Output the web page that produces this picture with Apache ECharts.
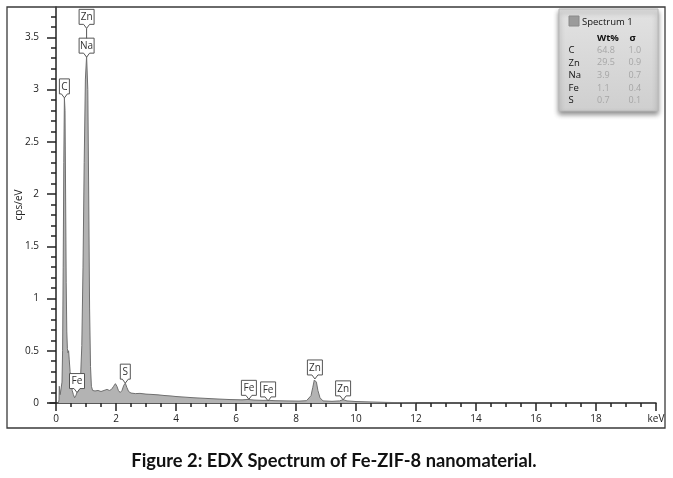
<!DOCTYPE html>
<html>
<head>
<meta charset="utf-8">
<script src="https://cdn.jsdelivr.net/npm/echarts@6/dist/echarts.min.js"></script>
<style>
  html, body { margin: 0; padding: 0; background: #fff; }
  #chart { width: 673px; height: 478px; }
</style>
</head>
<body>
<div id="chart"></div>
<script>
// spectrum (keV, cps/eV)
var energyKeV = [0.08, 0.10, 0.11, 0.12, 0.14, 0.17, 0.20, 0.22, 0.24, 0.26, 0.28, 0.30, 0.32, 0.34, 0.36, 0.38,
  0.40, 0.42, 0.44, 0.47, 0.50, 0.54, 0.58, 0.62, 0.66, 0.70, 0.74, 0.78, 0.82, 0.86, 0.90, 0.94, 0.98, 1.02,
  1.06, 1.09, 1.12, 1.15, 1.18, 1.22, 1.30, 1.40, 1.50, 1.60, 1.70, 1.78, 1.85, 1.92, 1.98, 2.03, 2.08, 2.14,
  2.20, 2.26, 2.31, 2.36, 2.42, 2.50, 2.65, 2.80, 3.00, 3.20, 3.40, 3.60, 3.80, 4.00, 4.30, 4.60, 5.00, 5.40,
  5.80, 6.20, 6.40, 6.60, 6.90, 7.07, 7.30, 7.70, 8.10, 8.35, 8.50, 8.56, 8.61, 8.64, 8.68, 8.73, 8.80, 8.90,
  9.20, 9.45, 9.57, 9.70, 10.0, 10.5, 11.0, 11.5, 12.0];
var countsCps = [0, 0.03, 0.16, 0.15, 0.08, 0.07, 0.20, 0.50, 1.30, 2.30, 2.92, 2.80, 2.00, 1.15, 0.68, 0.52,
  0.48, 0.50, 0.42, 0.30, 0.20, 0.12, 0.08, 0.05, 0.07, 0.10, 0.09, 0.13, 0.25, 0.55, 1.30, 2.30, 3.10, 3.32,
  3.00, 2.00, 0.90, 0.35, 0.16, 0.12, 0.115, 0.12, 0.11, 0.12, 0.13, 0.12, 0.13, 0.16, 0.185, 0.16, 0.12, 0.10,
  0.12, 0.17, 0.19, 0.15, 0.11, 0.095, 0.09, 0.092, 0.085, 0.082, 0.078, 0.072, 0.068, 0.062, 0.056, 0.05, 0.044, 0.038,
  0.033, 0.03, 0.034, 0.028, 0.025, 0.026, 0.022, 0.02, 0.018, 0.022, 0.07, 0.15, 0.22, 0.23, 0.20, 0.12, 0.05, 0.02,
  0.016, 0.02, 0.032, 0.02, 0.014, 0.01, 0.006, 0.003, 0];

// peak markers
var peakNames = ['C', 'Na', 'Zn', 'Fe', 'S', 'Fe', 'Fe', 'Zn', 'Zn'];
var peakKeV = [0.28, 1.02, 1.02, 0.70, 2.31, 6.43, 7.07, 8.63, 9.57];
var peakTip = [2.92, 3.31, 3.49, 0.10, 0.19, 0.035, 0.02, 0.23, 0.03];

// quant table
var quantElements = ['C', 'Zn', 'Na', 'Fe', 'S'];
var quantWt = ['64.8', '29.5', '3.9', '1.1', '0.7'];
var quantSigma = ['1.0', '0.9', '0.7', '0.4', '0.1'];

// ticks
var xMajorTicks = [0, 2, 4, 6, 8, 10, 12, 14, 16, 18, 20];
var yMajorTicks = [0, 0.5, 1, 1.5, 2, 2.5, 3, 3.5];

var xMinorTicks = [];
for (var i = 1; i < 40; i++) if (i % 4) xMinorTicks.push(i * 0.5);
var yMinorTicks = [];
for (var j = 1; j <= 37; j++) if (j % 5) yMinorTicks.push(+(j * 0.1).toFixed(1));

var spectrum = energyKeV.map(function (e, k) { return [e, countsCps[k]]; });
var markers = peakKeV.map(function (e, k) { return [e, peakTip[k]]; });

var uiFont = '"Open Sans", "DejaVu Sans", sans-serif';
var axisColor = '#222';

var myChart = echarts.init(document.getElementById('chart'));

function txt(x, y, text, size, color, weight) {
  return { type: 'text', z: 51, x: x, y: y,
    style: { text: text, fill: color, fontSize: size, fontFamily: uiFont,
      fontWeight: weight || 'normal', verticalAlign: 'middle' } };
}

var graphics = [
  // outer frame
  { type: 'rect', z: 100, shape: { x: 7, y: 7, width: 658, height: 421 },
    style: { fill: 'none', stroke: '#3a3a3a', lineWidth: 1.3 } },
  // legend panel
  { type: 'rect', z: 50, shape: { x: 559, y: 9, width: 99, height: 102 },
    style: {
      fill: new echarts.graphic.LinearGradient(0, 0, 0, 1, [
        { offset: 0, color: '#e2e2e2' }, { offset: 1, color: '#cfcfcf' }]),
      stroke: '#b8b8b8', lineWidth: 1,
      shadowBlur: 5, shadowOffsetY: 3, shadowColor: 'rgba(0,0,0,0.45)'
    } },
  { type: 'rect', z: 51, shape: { x: 569, y: 16, width: 10, height: 10 },
    style: { fill: '#9b9b9b', stroke: '#8a8a8a', lineWidth: 1 } },
  txt(582, 22.5, 'Spectrum 1', 9.5, '#111'),
  txt(597, 38, 'Wt%', 9.5, '#111', 'bold'),
  txt(629.5, 38, 'σ', 9.5, '#111', 'bold'),
  // caption
  { type: 'text', z: 51, x: 334, y: 461,
    style: { text: 'Figure 2: EDX Spectrum of Fe-ZIF-8 nanomaterial.', fill: '#111',
      fontSize: 18.3, fontWeight: 'bold', fontFamily: 'Lato, "Noto Sans", sans-serif',
      align: 'center', verticalAlign: 'middle' } }
];
quantElements.forEach(function (el, k) {
  var y = 50.3 + k * 12.6;
  graphics.push(txt(568.5, y, el, 9.5, '#111'));
  graphics.push(txt(597, y, quantWt[k], 9, '#a6a6a6'));
  graphics.push(txt(628.5, y, quantSigma[k], 9, '#a6a6a6'));
});

function baseX(extra) {
  return Object.assign({
    type: 'value', min: -0.2, max: 20, position: 'bottom',
    splitLine: { show: false }
  }, extra);
}
function baseY(extra) {
  return Object.assign({
    type: 'value', min: 0, max: 3.79, position: 'left',
    splitLine: { show: false }
  }, extra);
}

myChart.setOption({
  animation: false,
  backgroundColor: '#fff',
  grid: { left: 50, right: 17, top: 7, bottom: 75, containLabel: false, outerBoundsMode: 'none' },
  graphic: graphics,
  xAxis: [
    baseX({
      axisLine: { show: true, lineStyle: { color: axisColor, width: 1.5 } },
      axisTick: { show: true, length: 8, customValues: xMajorTicks, lineStyle: { color: axisColor, width: 1.5 } },
      axisLabel: {
        customValues: xMajorTicks, margin: 11, color: '#222', fontSize: 10, fontFamily: uiFont,
        formatter: function (v) { return v === 20 ? 'keV' : String(v); }
      }
    }),
    baseX({
      axisLine: { show: false },
      axisTick: { show: true, length: 4, customValues: xMinorTicks, lineStyle: { color: axisColor, width: 1.5 } },
      axisLabel: { show: false }
    })
  ],
  yAxis: [
    baseY({
      name: 'cps/eV', nameLocation: 'middle', nameGap: 26, nameMoveOverlap: false,
      nameTextStyle: { color: '#222', fontSize: 10, fontFamily: uiFont },
      axisLine: { show: true, lineStyle: { color: axisColor, width: 1.5 } },
      axisTick: { show: true, length: 9, customValues: yMajorTicks, lineStyle: { color: axisColor, width: 1.5 } },
      axisLabel: { customValues: yMajorTicks, margin: 11, color: '#222', fontSize: 10, fontFamily: uiFont }
    }),
    baseY({
      axisLine: { show: false },
      axisTick: { show: true, length: 5, customValues: yMinorTicks, lineStyle: { color: axisColor, width: 1.5 } },
      axisLabel: { show: false }
    })
  ],
  series: [
    {
      type: 'line', name: 'Spectrum 1', data: spectrum, xAxisIndex: 0, yAxisIndex: 0,
      symbol: 'none', smooth: false,
      lineStyle: { color: '#6f6f6f', width: 1 },
      areaStyle: { color: '#b3b3b3', opacity: 1 },
      z: 2
    },
    {
      type: 'custom', data: markers, xAxisIndex: 0, yAxisIndex: 0, z: 5, clip: false,
      renderItem: function (params, api) {
        var k = params.dataIndex;
        var tip = api.coord([api.value(0), api.value(1)]);
        var name = peakNames[k];
        // a label stacked above another at the same energy gets a leader line
        var stacked = peakKeV.slice(0, k).indexOf(peakKeV[k]) >= 0;
        var stem = stacked ? 10 : 0;
        var w = name.length > 1 ? 15 : 10, h = 15, notch = 4;
        var cx = tip[0];
        var bottom = tip[1] - notch - stem;
        var top = bottom - h;
        var l = cx - w / 2, r = cx + w / 2;
        var children = [{
          type: 'polygon',
          shape: { points: [[l, top], [r, top], [r, bottom], [cx + 3, bottom], [cx, bottom + notch], [cx - 3, bottom], [l, bottom]] },
          style: { fill: '#fff', stroke: '#555', lineWidth: 1 }
        }, {
          type: 'text', x: cx, y: (top + bottom) / 2 + 0.5,
          style: { text: name, fill: '#333', fontSize: 10, fontFamily: uiFont, align: 'center', verticalAlign: 'middle' }
        }];
        if (stem) {
          children.push({ type: 'line', shape: { x1: cx, y1: bottom + notch, x2: cx, y2: tip[1] },
            style: { stroke: '#555', lineWidth: 1 } });
        }
        return { type: 'group', children: children };
      }
    }
  ]
});

window.addEventListener('resize', function () { myChart.resize(); });
</script>
</body>
</html>
